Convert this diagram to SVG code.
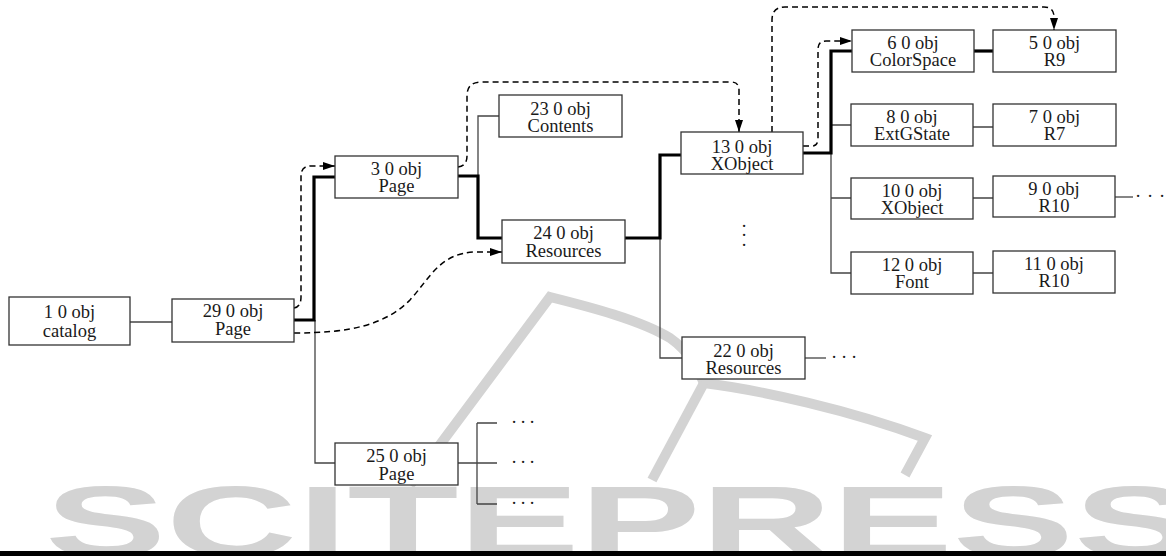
<svg xmlns="http://www.w3.org/2000/svg" width="1166" height="556" viewBox="0 0 1166 556">
<style>
.box rect{fill:#fff;stroke:#333;stroke-width:1.3}
.box text,.dots{font-family:"Liberation Serif","Times New Roman",serif;font-size:18.5px;fill:#1a1a1a;text-anchor:middle}
.thin{fill:none;stroke:#444;stroke-width:1.3}
.thick{fill:none;stroke:#000;stroke-width:3.2}
.dash{fill:none;stroke:#000;stroke-width:1.5;stroke-dasharray:6 4}
.wm{fill:none;stroke:#d3d3d3;stroke-width:10}
</style>
<defs>
<marker id="arr" markerWidth="12" markerHeight="8" refX="12" refY="4" orient="auto" markerUnits="userSpaceOnUse">
<path d="M0,0 L12,4 L0,8 z" fill="#000"/>
</marker>
</defs>
<rect width="1166" height="556" fill="#fff"/>
<g id="watermark">
<text x="45" y="556" textLength="1150" lengthAdjust="spacingAndGlyphs" font-family="Liberation Sans, Arial, sans-serif" font-weight="bold" font-size="100" fill="#d3d3d3">SCITEPRESS</text>
<path class="wm" d="M410,485 L550,297 C590,307 640,320 670,338 C690,352 698,370 704,383 C760,390 850,410 925,438 L905,475"/>
<path class="wm" d="M704,383 L652,480"/>
</g>
<g id="connectors">
<path class="thin" d="M130,322 H172"/>
<path class="thin" d="M315,320 V463 H335"/>
<path class="thin" d="M478,176 V116 H499"/>
<path class="thin" d="M660,238 V358 H682"/>
<path class="thin" d="M831,153 V273 H851 M831,125 H851 M831,198 H851"/>
<path class="thin" d="M973,127 H993 M973,198 H993 M973,273 H993"/>
<path class="thin" d="M1115,197 H1133"/>
<path class="thin" d="M805,358 H826"/>
<path class="thin" d="M458,463 H477 M477,423 V504 M477,423 H497 M477,463 H497 M477,504 H497"/>
<path class="thick" d="M294,320 H314 V177 H335"/>
<path class="thick" d="M458,176 H478 V238 H502"/>
<path class="thick" d="M625,238 H660 V155 H681"/>
<path class="thick" d="M803,153 H831 V51 H852"/>
<path class="thick" d="M974,51 H993"/>
<path class="dash" marker-end="url(#arr)" d="M294,308 Q301,307 301,297 L301,176 Q301,166 311,166 L335,166"/>
<path class="dash" marker-end="url(#arr)" d="M294,333 C350,333 385,325 410,300 C430,278 440,253 475,252 L502,252"/>
<path class="dash" marker-end="url(#arr)" d="M458,167 Q467,166 467,156 L467,96 Q467,82 481,82 L731,82 Q739,82 739,90 L739,132"/>
<path class="dash" marker-end="url(#arr)" d="M803,146 L812,146 Q818,146 818,138 L818,49 Q818,41 826,41 L852,41"/>
<path class="dash" marker-end="url(#arr)" d="M772,132 L772,20 Q772,7 785,7 L1044,7 Q1054,7 1054,17 L1054,30"/>
</g>
<g id="n1" class="box"><rect x="9" y="297" width="121" height="48"/><text x="69.5" y="318">1 0 obj</text><text x="69.5" y="337">catalog</text></g>
<g id="n29" class="box"><rect x="172" y="299" width="122" height="43"/><text x="233" y="317">29 0 obj</text><text x="233" y="335">Page</text></g>
<g id="n3" class="box"><rect x="335" y="156" width="123" height="42"/><text x="396.5" y="175">3 0 obj</text><text x="396.5" y="192">Page</text></g>
<g id="n23" class="box"><rect x="499" y="95" width="123" height="42"/><text x="560.5" y="115">23 0 obj</text><text x="560.5" y="132">Contents</text></g>
<g id="n24" class="box"><rect x="502" y="220" width="123" height="43"/><text x="563.5" y="239">24 0 obj</text><text x="563.5" y="257">Resources</text></g>
<g id="n13" class="box"><rect x="681" y="132" width="122" height="42"/><text x="742" y="153">13 0 obj</text><text x="742" y="170">XObject</text></g>
<g id="n22" class="box"><rect x="682" y="337" width="123" height="42"/><text x="743.5" y="357">22 0 obj</text><text x="743.5" y="374">Resources</text></g>
<g id="n25" class="box"><rect x="335" y="443" width="123" height="42"/><text x="396.5" y="462">25 0 obj</text><text x="396.5" y="480">Page</text></g>
<g id="n6" class="box"><rect x="852" y="30" width="122" height="42"/><text x="913" y="49">6 0 obj</text><text x="913" y="66">ColorSpace</text></g>
<g id="n5" class="box"><rect x="993" y="30" width="123" height="42"/><text x="1054.5" y="49">5 0 obj</text><text x="1054.5" y="66">R9</text></g>
<g id="n8" class="box"><rect x="851" y="104" width="122" height="42"/><text x="912" y="123">8 0 obj</text><text x="912" y="140">ExtGState</text></g>
<g id="n7" class="box"><rect x="993" y="104" width="123" height="42"/><text x="1054.5" y="123">7 0 obj</text><text x="1054.5" y="140">R7</text></g>
<g id="n10" class="box"><rect x="851" y="178" width="122" height="41"/><text x="912" y="197">10 0 obj</text><text x="912" y="214">XObject</text></g>
<g id="n9" class="box"><rect x="993" y="176" width="122" height="41"/><text x="1054" y="195">9 0 obj</text><text x="1054" y="212">R10</text></g>
<g id="n12" class="box"><rect x="851" y="252" width="122" height="42"/><text x="912" y="271">12 0 obj</text><text x="912" y="288">Font</text></g>
<g id="n11" class="box"><rect x="993" y="251" width="122" height="42"/><text x="1054" y="270">11 0 obj</text><text x="1054" y="287">R10</text></g>
<g id="ellipses">
<text class="dots" x="1138 1150 1162" y="202">···</text>
<text class="dots" x="834 844 854" y="363">···</text>
<text class="dots" x="514 523 532" y="428">···</text>
<text class="dots" x="514 523 532" y="468">···</text>
<text class="dots" x="514 523 532" y="509">···</text>
<text class="dots" x="744 744 744" y="232 241 251">···</text>
</g>
<rect x="0" y="551" width="1166" height="5" fill="#000"/>
</svg>
